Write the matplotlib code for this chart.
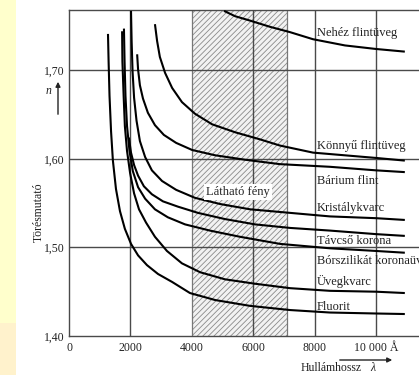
import matplotlib
matplotlib.use("Agg")
import matplotlib.pyplot as plt
from matplotlib.patches import Rectangle

# --- data (wavelength in Angstrom, refractive index) ---
nehez_wl = [5050, 5410, 5900, 6550, 7200, 7950, 8990, 10000, 10940]
nehez_n = [1.767, 1.761, 1.756, 1.749, 1.743, 1.735, 1.728, 1.724, 1.721]

konnyu_wl = [2800, 2870, 2960, 3130, 3360, 3680, 4100, 4660, 5410, 6220, 6870, 7950, 10000, 10940]
konnyu_n = [1.752, 1.733, 1.715, 1.697, 1.680, 1.664, 1.651, 1.639, 1.630, 1.622, 1.615, 1.607, 1.601, 1.598]

barium_wl = [2220, 2250, 2310, 2410, 2570, 2800, 3090, 3490, 4010, 4760, 5730, 6870, 8500, 10000, 10940]
barium_n = [1.718, 1.701, 1.683, 1.668, 1.652, 1.638, 1.627, 1.618, 1.610, 1.604, 1.599, 1.594, 1.591, 1.587, 1.585]

kristaly_wl = [2020, 2040, 2070, 2120, 2200, 2310, 2480, 2700, 3030, 3490, 4100, 4920, 5900, 7200, 8500, 10000, 10940]
kristaly_n = [1.767, 1.733, 1.699, 1.669, 1.643, 1.620, 1.602, 1.587, 1.575, 1.565, 1.556, 1.549, 1.543, 1.539, 1.535, 1.533, 1.531]

tavcso_wl = [1950, 2020, 2120, 2250, 2440, 2700, 3060, 3550, 4200, 5080, 6060, 7200, 8500, 10000, 10940]
tavcso_n = [1.624, 1.607, 1.593, 1.581, 1.569, 1.560, 1.552, 1.546, 1.539, 1.532, 1.526, 1.522, 1.519, 1.515, 1.513]

bor_wl = [1790, 1810, 1840, 1890, 1970, 2080, 2250, 2480, 2800, 3220, 3780, 4590, 5570, 6870, 8500, 10000, 10940]
bor_n = [1.747, 1.710, 1.671, 1.637, 1.609, 1.586, 1.568, 1.555, 1.543, 1.534, 1.526, 1.519, 1.512, 1.504, 1.499, 1.496, 1.494]

uveg_wl = [1730, 1740, 1780, 1820, 1890, 1990, 2120, 2280, 2510, 2800, 3190, 3680, 4270, 5080, 6060, 7200, 8500, 10000, 10940]
uveg_n = [1.744, 1.710, 1.671, 1.637, 1.609, 1.584, 1.561, 1.543, 1.528, 1.512, 1.496, 1.482, 1.472, 1.464, 1.459, 1.454, 1.451, 1.450, 1.4485]

fluorit_wl = [1270, 1290, 1320, 1370, 1430, 1530, 1660, 1820, 2020, 2250, 2540, 2900, 3360, 3940, 4760, 5900, 7200, 8500, 10000, 10940]
fluorit_n = [1.741, 1.710, 1.671, 1.631, 1.598, 1.566, 1.541, 1.521, 1.504, 1.491, 1.480, 1.470, 1.461, 1.4485, 1.4406, 1.434, 1.4293, 1.4265, 1.4254, 1.4248]

curve_labels = ["Nehéz flintüveg", "Könnyű flintüveg", "Bárium flint", "Kristálykvarc",
                "Távcső korona", "Bórszilikát koronaüveg", "Üvegkvarc", "Fluorit"]
label_n = [1.742, 1.615, 1.575, 1.545, 1.507, 1.485, 1.461, 1.433]
label_wl = 8080

visible = (4000, 7100)
x_ticks = [0, 2000, 4000, 6000, 8000, 10000]
x_ticklabels = ["0", "2000", "4000", "6000", "8000", "10 000 Å"]
y_ticks = [1.40, 1.50, 1.60, 1.70]
y_ticklabels = ["1,40", "1,50", "1,60", "1,70"]

plt.rcParams['font.family'] = ['Liberation Serif', 'DejaVu Serif']
plt.rcParams['hatch.linewidth'] = 0.6

fig = plt.figure(figsize=(4.19, 3.75), dpi=100)
W, H = 419, 375

# pale yellow strip on the left edge
fig.patches.append(Rectangle((0, 1 - 323 / H), 16 / W, 323 / H, transform=fig.transFigure,
                             facecolor="#ffffcc", edgecolor="none", zorder=-5))
fig.patches.append(Rectangle((0, 0), 16 / W, 1 - 323 / H, transform=fig.transFigure,
                             facecolor="#fff2cc", edgecolor="none", zorder=-5))

ax = fig.add_axes([69 / W, 1 - 336 / H, (430 - 69) / W, (336 - 10) / H])
ax.set_xlim(0, 11760)
ax.set_ylim(1.40, 1.768)

grid_c = "#4a4a4a"
ax.axvspan(*visible, facecolor="#f2f2f2", edgecolor="#8a8a8a", hatch="//////", lw=0, zorder=0)
for xv in visible:
    ax.axvline(xv, color="#777777", lw=0.9, zorder=1)
for xv in [2000, 6000, 8000, 10000]:
    ax.axvline(xv, color=grid_c, lw=1.0, zorder=1)
for yv in [1.50, 1.60, 1.70]:
    ax.axhline(yv, color=grid_c, lw=1.0, zorder=1)

curves = [(nehez_wl, nehez_n), (konnyu_wl, konnyu_n), (barium_wl, barium_n),
          (kristaly_wl, kristaly_n), (tavcso_wl, tavcso_n), (bor_wl, bor_n),
          (uveg_wl, uveg_n), (fluorit_wl, fluorit_n)]
for wl, n in curves:
    ax.plot(wl, n, color="black", lw=1.5, solid_capstyle="butt", solid_joinstyle="round", zorder=3)

for lab, yn in zip(curve_labels, label_n):
    ax.text(label_wl, yn, lab, fontsize=9, va="center", ha="left", color="#222222",
            zorder=4, clip_on=False)

ax.text(5500, 1.5625, "Látható fény", fontsize=9, ha="center", va="center", color="#222222",
        zorder=4, bbox=dict(facecolor="white", edgecolor="none", pad=1.5))

for s in ["left", "bottom", "top", "right"]:
    ax.spines[s].set_color(grid_c)
    ax.spines[s].set_linewidth(1.0)

ax.set_xticks(x_ticks)
ax.set_xticklabels(x_ticklabels)
ax.set_yticks(y_ticks)
ax.set_yticklabels(y_ticklabels)
ax.tick_params(length=0, labelsize=8.5, colors="#222222")
ax.tick_params(axis="x", pad=4)
ax.tick_params(axis="y", pad=3)

# axis captions
fig.text(39 / W, 1 - 212 / H, "Törésmutató", rotation=90, fontsize=8.5, ha="center", va="center",
         color="#222222")
fig.text(49 / W, 1 - 91 / H, "n", fontsize=8.5, style="italic", ha="center", va="center",
         color="#222222")
ax.annotate("", xy=(58, H - 79), xytext=(58, H - 117), xycoords="figure pixels",
            textcoords="figure pixels",
            arrowprops=dict(arrowstyle="-|>", color="#222222", lw=1.0, mutation_scale=7))
fig.text(362 / W, 1 - 368 / H, "Hullámhossz", fontsize=8.5, ha="right", va="center",
         color="#222222")
fig.text(373 / W, 1 - 368 / H, "λ", fontsize=8.5, style="italic", ha="center", va="center",
         color="#222222")
ax.annotate("", xy=(395, H - 360), xytext=(337, H - 360), xycoords="figure pixels",
            textcoords="figure pixels",
            arrowprops=dict(arrowstyle="-|>", color="#222222", lw=1.0, mutation_scale=7))

fig.savefig("out.png", dpi=100)
